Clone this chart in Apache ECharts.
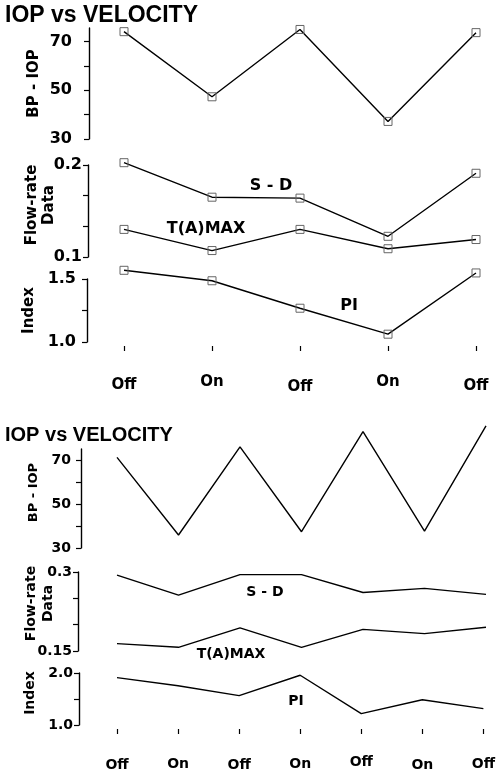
<!DOCTYPE html>
<html>
<head>
<meta charset="utf-8">
<script src="https://cdn.jsdelivr.net/npm/echarts@6/dist/echarts.min.js"></script>
<style>
  html, body { margin: 0; padding: 0; background: #fff; }
  #chart { width: 498px; height: 776px; }
</style>
</head>
<body>
<div id="chart"></div>
<script>
// ---- Data ----
const titleText = 'IOP vs VELOCITY';

// Panel 1
const categories1 = ['Off', 'On', 'Off', 'On', 'Off'];
const bpIop1 = [74.0, 47.3, 74.9, 37.2, 73.6];
const sd1 = [0.2025, 0.165, 0.164, 0.1225, 0.191];
const tamax1 = [0.13, 0.107, 0.13, 0.109, 0.119];
const pi1 = [1.569, 1.486, 1.268, 1.062, 1.548];

// Panel 2
const categories2 = ['Off', 'On', 'Off', 'On', 'Off', 'On', 'Off'];
const bpIop2 = [71.2, 35.9, 76.0, 37.4, 82.9, 37.7, 85.5];
const sd2 = [0.294, 0.256, 0.295, 0.295, 0.261, 0.269, 0.2575];
const tamax2 = [0.164, 0.157, 0.194, 0.157, 0.191, 0.183, 0.195];
const pi2 = [1.911, 1.755, 1.566, 1.957, 1.22, 1.485, 1.315];

// Tick values / labels
const bpTicks = [30, 40, 50, 60, 70];
const bpLabels = [30, 50, 70];
const flowTicks1 = [0.1, 0.1333, 0.1667, 0.2];
const flowLabels1 = [0.1, 0.2];
const idxTicks1 = [1.0, 1.25, 1.5];
const idxLabels1 = [1.0, 1.5];
const flowTicks2 = [0.15, 0.2, 0.25, 0.3];
const flowLabels2 = [0.15, 0.3];
const idxTicks2 = [1.0, 1.5, 2.0];
const idxLabels2 = [1.0, 2.0];

// ---- Styling (separate from data) ----
const FONT = 'DejaVu Sans';
const labelPad1 = [2.5, 0, 5, 0, 3.5];
const labelPad2 = [3.8, 2, 3.8, 2, 0, 3.8, 2];

const chart = echarts.init(document.getElementById('chart'), null, { renderer: 'canvas' });

function xAxisCfg(gridIndex, cats, show, pads, fontSize, margin) {
  return {
    type: 'category', gridIndex: gridIndex, boundaryGap: false,
    data: cats.map((c, i) => show ? { value: c, textStyle: { padding: [pads[i], 0, 0, 0] } } : c),
    show: show,
    offset: 4,
    axisLine: { show: false },
    axisTick: { show: true, length: 5, lineStyle: { color: '#000', width: 1.2 } },
    axisLabel: { show: true, margin: margin, color: '#000', fontFamily: FONT, fontWeight: 'bold', fontSize: fontSize }
  };
}

function yAxisCfg(o) {
  return {
    type: 'value', gridIndex: o.grid, min: o.min, max: o.max,
    offset: o.offset, position: 'left',
    name: o.name, nameLocation: 'middle', nameRotate: 90, nameGap: o.nameGap,
    nameMoveOverlap: false,
    nameTextStyle: { color: '#000', fontFamily: FONT, fontWeight: 'bold', fontSize: o.nameSize,
                     lineHeight: o.nameLH || o.nameSize + 2, padding: [0, 0, 0, o.namePadL || 0] },
    axisLine: { show: true, lineStyle: { color: '#000', width: 1.4 } },
    axisTick: { show: true, length: 5, customValues: o.ticks, lineStyle: { color: '#000', width: 1.2 } },
    axisLabel: { show: true, customValues: o.labels, margin: o.margin, color: '#000',
                 fontFamily: FONT, fontWeight: 'bold', fontSize: o.fontSize,
                 formatter: o.fmt || (v => String(v)) },
    splitLine: { show: false }
  };
}

function lineSeries(xi, yi, data, withSymbol) {
  return {
    type: 'line', xAxisIndex: xi, yAxisIndex: yi, data: data,
    clip: false, silent: true,
    symbol: withSymbol ? 'rect' : 'none', symbolSize: 8, showSymbol: withSymbol,
    lineStyle: { color: '#000', width: 1.4 },
    itemStyle: { color: 'rgba(0,0,0,0)', borderColor: '#666', borderWidth: 1 },
    z: 3
  };
}

const fix1 = v => v.toFixed(1);

const option = {
  backgroundColor: '#fff',
  animation: false,
  title: [
    { text: titleText, left: 5, top: 4, padding: 0,
      textStyle: { fontFamily: 'Liberation Sans', fontWeight: 'bold', fontSize: 23, color: '#000' } },
    { text: titleText, left: 5, top: 425, padding: 0,
      textStyle: { fontFamily: 'Liberation Sans', fontWeight: 'bold', fontSize: 20, color: '#000' } }
  ],
  grid: [
    { left: 124, right: 22, top: 28, height: 111 },
    { left: 124, right: 22, top: 165, height: 92 },
    { left: 124, right: 22, top: 279, height: 63 },
    { left: 117, right: 12, top: 449, height: 99 },
    { left: 117, right: 12, top: 572, height: 79 },
    { left: 117, right: 12, top: 673, height: 52 }
  ],
  xAxis: [
    xAxisCfg(0, categories1, false, labelPad1, 15, 29),
    xAxisCfg(1, categories1, false, labelPad1, 15, 29),
    xAxisCfg(2, categories1, true, labelPad1, 15, 29),
    xAxisCfg(3, categories2, false, labelPad2, 14, 26),
    xAxisCfg(4, categories2, false, labelPad2, 14, 26),
    xAxisCfg(5, categories2, true, labelPad2, 14, 26)
  ],
  yAxis: [
    yAxisCfg({ grid: 0, min: 30, max: 75.5, offset: 35, ticks: bpTicks, labels: bpLabels, margin: 17,
               fontSize: 16, name: 'BP - IOP', nameGap: 46, nameSize: 15 }),
    yAxisCfg({ grid: 1, min: 0.1, max: 0.2, offset: 36, ticks: flowTicks1, labels: flowLabels1, margin: 6,
               fontSize: 16, name: 'Flow-rate\nData', nameGap: 30, nameSize: 15, nameLH: 17, namePadL: 12 }),
    yAxisCfg({ grid: 2, min: 1.0, max: 1.5, offset: 37, ticks: idxTicks1, labels: idxLabels1, margin: 11,
               fontSize: 16, name: 'Index', nameGap: 49, nameSize: 15, fmt: fix1 }),
    yAxisCfg({ grid: 3, min: 30, max: 75, offset: 36, ticks: bpTicks, labels: bpLabels, margin: 10,
               fontSize: 14, name: 'BP - IOP', nameGap: 40, nameSize: 13, namePadL: 12 }),
    yAxisCfg({ grid: 4, min: 0.15, max: 0.3, offset: 39, ticks: flowTicks2, labels: flowLabels2, margin: 6,
               fontSize: 14, name: 'Flow-rate\nData', nameGap: 21, nameSize: 14, nameLH: 17, namePadL: 16 }),
    yAxisCfg({ grid: 5, min: 1.0, max: 2.0, offset: 38, ticks: idxTicks2, labels: idxLabels2, margin: 6,
               fontSize: 14, name: 'Index', nameGap: 41, nameSize: 14, namePadL: 12, fmt: fix1 })
  ],
  series: [
    lineSeries(0, 0, bpIop1, true),
    lineSeries(1, 1, sd1, true),
    lineSeries(1, 1, tamax1, true),
    lineSeries(2, 2, pi1, true),
    lineSeries(3, 3, bpIop2, false),
    lineSeries(4, 4, sd2, false),
    lineSeries(4, 4, tamax2, false),
    lineSeries(5, 5, pi2, false)
  ],
  graphic: [
    { type: 'text', x: 271, y: 186, style: { text: 'S - D', align: 'center', verticalAlign: 'middle',
      fill: '#000', font: 'bold 16px "DejaVu Sans"' } },
    { type: 'text', x: 206, y: 229, style: { text: 'T(A)MAX', align: 'center', verticalAlign: 'middle',
      fill: '#000', font: 'bold 16px "DejaVu Sans"' } },
    { type: 'text', x: 349, y: 306, style: { text: 'PI', align: 'center', verticalAlign: 'middle',
      fill: '#000', font: 'bold 16px "DejaVu Sans"' } },
    { type: 'text', x: 265, y: 592, style: { text: 'S - D', align: 'center', verticalAlign: 'middle',
      fill: '#000', font: 'bold 14px "DejaVu Sans"' } },
    { type: 'text', x: 231, y: 654, style: { text: 'T(A)MAX', align: 'center', verticalAlign: 'middle',
      fill: '#000', font: 'bold 14px "DejaVu Sans"' } },
    { type: 'text', x: 296, y: 701, style: { text: 'PI', align: 'center', verticalAlign: 'middle',
      fill: '#000', font: 'bold 14px "DejaVu Sans"' } }
  ]
};

chart.setOption(option);
</script>
</body>
</html>
